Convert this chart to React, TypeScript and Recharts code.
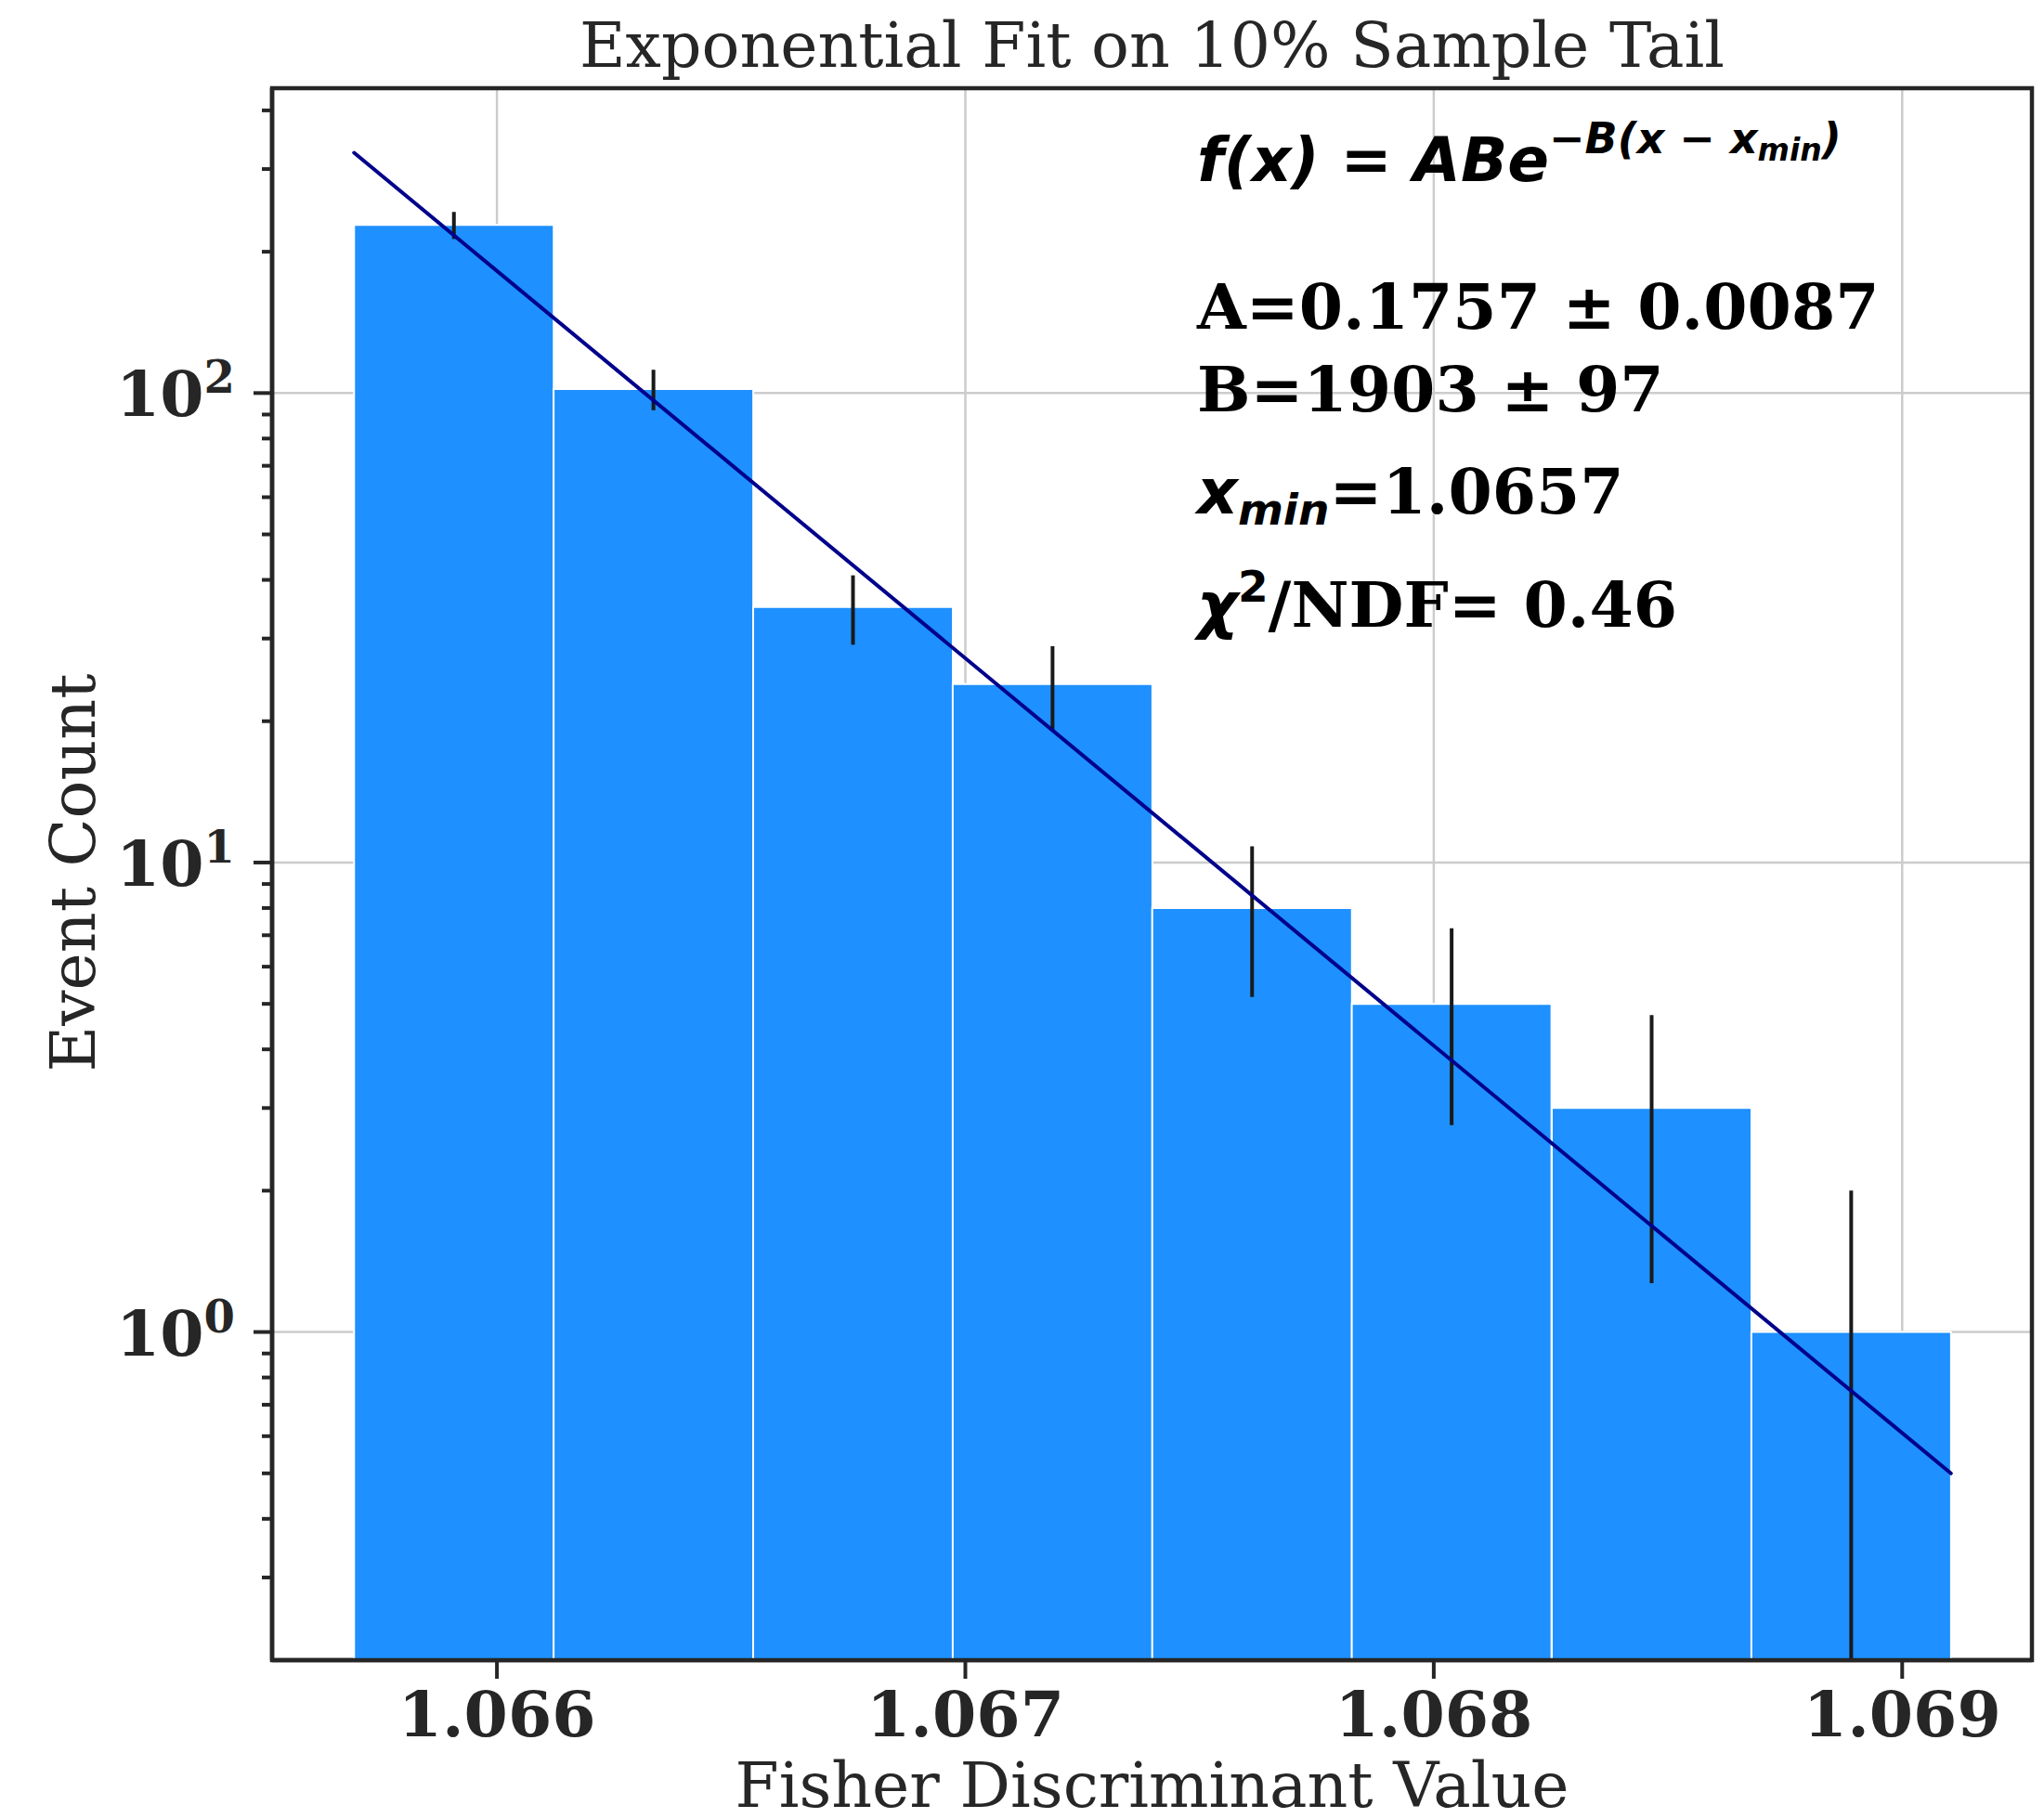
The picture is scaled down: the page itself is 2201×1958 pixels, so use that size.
import React from "react";
import {
  ComposedChart,
  Bar,
  Line,
  XAxis,
  YAxis,
  CartesianGrid,
  ErrorBar,
  ReferenceArea,
  Customized,
} from "recharts";

// ---- data ----
const binCenters = [1.065908, 1.066334, 1.06676, 1.067186, 1.067612, 1.068038, 1.068465, 1.068891];
const counts = [228, 102, 35, 24, 8, 5, 3, 1];
const countErrors = [15.1, 10.1, 5.9, 4.9, 2.83, 2.24, 1.73, 1.0];
const fitX = [1.065695, 1.069104];
const fitY = [325, 0.5];
const xTicks = [1.066, 1.067, 1.068, 1.069];
const yMajorTicks = [1, 10, 100];
const yMinorTicks = [0.3, 0.4, 0.5, 0.6, 0.7, 0.8, 0.9, 2, 3, 4, 5, 6, 7, 8, 9, 20, 30, 40, 50, 60, 70, 80, 90, 200, 300, 400];

const X_DOMAIN: [number, number] = [1.06552, 1.069277];
const Y_DOMAIN: [number, number] = [0.2, 446];

const W = 2201;
const H = 1958;
const SERIF = "DejaVu Serif";
const SANS = "DejaVu Sans";
const DARK = "#262626";
const FS = 68;

const barData = binCenters.map((x, i) => {
  const err = countErrors[i];
  const low = counts[i] - err <= Y_DOMAIN[0] ? counts[i] - Y_DOMAIN[0] : err;
  return { x, count: counts[i], err: [low, err] };
});
const fitData = fitX.map((x, i) => ({ x, y: fitY[i] }));
const allYTicks = [...yMajorTicks, ...yMinorTicks].sort((a, b) => a - b);

const YTick = (props: any) => {
  const { x, y, payload } = props;
  const v = payload.value;
  const isMajor = yMajorTicks.includes(v);
  const exp = Math.round(Math.log10(v));
  return (
    <g>
      <line x1={isMajor ? x : x + 9} x2={x + 20} y1={y} y2={y} stroke={DARK} strokeWidth={4} />
      {isMajor && (
        <text
          x={x - 20}
          y={y + 25}
          textAnchor="end"
          fontFamily={SERIF}
          fontWeight="bold"
          fontSize={FS}
          fill={DARK}
        >
          <tspan>10</tspan>
          <tspan fontSize={48} dy={-25}>
            {String(exp)}
          </tspan>
        </text>
      )}
    </g>
  );
};

const TextLayer = () => (
  <g>
    <text x={1240.5} y={72} textAnchor="middle" fontFamily={SERIF} fontSize={FS} fill={DARK}>
      Exponential Fit on 10% Sample Tail
    </text>
    <text x={1240.5} y={1946} textAnchor="middle" fontFamily={SERIF} fontSize={FS} fill={DARK}>
      Fisher Discriminant Value
    </text>
    <text
      x={102}
      y={940}
      transform="rotate(-90 102 940)"
      textAnchor="middle"
      fontFamily={SERIF}
      fontSize={FS}
      fill={DARK}
    >
      Event Count
    </text>

    <text x={1289} y={195} fontFamily={SANS} fontWeight="bold" fontStyle="italic" fontSize={66} fill="#000">
      <tspan>f(x) = ABe</tspan>
      <tspan fontSize={46} dy={-30}>−B(x − x</tspan>
      <tspan fontSize={33} dy={8}>min</tspan>
      <tspan fontSize={46} dy={-8}>)</tspan>
    </text>

    <text x={1289} y={354} fontFamily={SERIF} fontWeight="bold" fontSize={FS} fill="#000">
      A=0.1757 ± 0.0087
    </text>
    <text x={1289} y={443} fontFamily={SERIF} fontWeight="bold" fontSize={FS} fill="#000">
      B=1903 ± 97
    </text>
    <text x={1289} y={553} fontWeight="bold" fontSize={FS} fill="#000">
      <tspan fontFamily={SANS} fontStyle="italic">x</tspan>
      <tspan fontFamily={SANS} fontStyle="italic" fontSize={47} dy={12}>min</tspan>
      <tspan fontFamily={SERIF} dy={-12}>=1.0657</tspan>
    </text>
    <text x={1289} y={675} fontWeight="bold" fontSize={FS} fill="#000">
      <tspan fontFamily={SANS} fontStyle="italic">χ</tspan>
      <tspan fontFamily={SANS} fontSize={47} dy={-27}>2</tspan>
      <tspan fontFamily={SERIF} dy={27}>/NDF= 0.46</tspan>
    </text>
  </g>
);

export default function App() {
  return (
    <div style={{ position: "absolute", left: 0, top: 0, width: W, height: H, background: "#fff" }}>
      <ComposedChart
        width={W}
        height={H}
        data={barData}
        margin={{ top: 95, right: 13, bottom: 0, left: 0 }}
        barCategoryGap={0}
        barGap={0}
      >
        <CartesianGrid
          stroke="#cccccc"
          strokeWidth={2.5}
          horizontalValues={yMajorTicks}
          verticalValues={xTicks}
        />
        <XAxis
          dataKey="x"
          type="number"
          domain={X_DOMAIN}
          allowDataOverflow
          ticks={xTicks}
          interval={0}
          height={170}
          tickSize={20}
          tickMargin={14}
          tickFormatter={(v: number) => v.toFixed(3)}
          tick={{ fontSize: FS, fontWeight: "bold", fill: DARK, fontFamily: SERIF }}
          tickLine={{ stroke: DARK, strokeWidth: 4 }}
          axisLine={{ stroke: DARK, strokeWidth: 4.5 }}
        />
        <XAxis
          xAxisId="fit"
          dataKey="x"
          type="number"
          domain={X_DOMAIN}
          allowDataOverflow
          hide
        />
        <YAxis
          scale="log"
          type="number"
          domain={Y_DOMAIN}
          allowDataOverflow
          ticks={allYTicks}
          interval={0}
          width={293}
          tickSize={20}
          tickMargin={0}
          tickLine={false}
          tick={<YTick />}
          axisLine={{ stroke: DARK, strokeWidth: 4.5 }}
        />
        <Bar dataKey="count" fill="#1E90FF" stroke="#ffffff" strokeWidth={2} isAnimationActive={false}>
          <ErrorBar dataKey="err" direction="y" width={0} stroke="#1a1a1a" strokeWidth={4} isAnimationActive={false} />
        </Bar>
        <Line
          data={fitData}
          xAxisId="fit"
          dataKey="y"
          type="linear"
          stroke="#00008B"
          strokeWidth={4}
          strokeLinecap="round"
          dot={false}
          activeDot={false}
          isAnimationActive={false}
        />
        <ReferenceArea
          x1={X_DOMAIN[0]}
          x2={X_DOMAIN[1]}
          y1={Y_DOMAIN[0]}
          y2={Y_DOMAIN[1]}
          fill="none"
          fillOpacity={0}
          stroke={DARK}
          strokeWidth={4.5}
          ifOverflow="visible"
        />
        <Customized component={TextLayer} />
      </ComposedChart>
    </div>
  );
}
